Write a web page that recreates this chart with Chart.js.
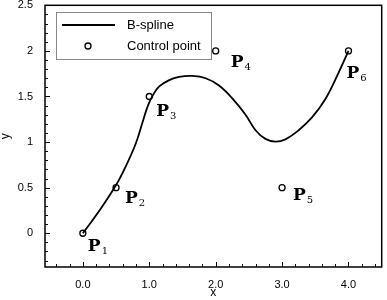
<!DOCTYPE html>
<html>
<head>
<meta charset="utf-8">
<script src="https://cdn.jsdelivr.net/npm/chart.js@4.4.0/dist/chart.umd.min.js"></script>
<style>
	html, body { margin: 0; padding: 0; background: #fff; }
	#wrap { width: 387px; height: 300px; }
</style>
</head>
<body>
<div id="wrap"><canvas id="graph"></canvas></div>
<script>
/* B-spline curve */
var curveX = [0, 0.25, 0.5, 0.65, 0.8, 0.9, 0.98, 1.06, 1.15, 1.3, 1.45, 1.65, 1.85, 2.05, 2.25, 2.45, 2.6, 2.75, 2.9, 3.05, 3.25, 3.45, 3.65, 3.85, 4.0];
var curveY = [0, 0.25, 0.53, 0.74, 0.99, 1.22, 1.40, 1.52, 1.61, 1.68, 1.715, 1.725, 1.70, 1.62, 1.48, 1.30, 1.13, 1.035, 1.005, 1.03, 1.13, 1.27, 1.47, 1.76, 2.0];

/* Control points */
var pointX = [0, 0.5, 1, 2, 3, 4];
var pointY = [0, 0.5, 1.5, 2, 0.5, 2];
var pointNames = ['1', '2', '3', '4', '5', '6'];

/* Axis ticks */
var xTicks = [0, 1, 2, 3, 4];
var xTickLabels = ['0.0', '1.0', '2.0', '3.0', '4.0'];
var yTicks = [0, 0.5, 1, 1.5, 2, 2.5];
var yTickLabels = ['0', '0.5', '1', '1.5', '2', '2.5'];

var seriesNames = ['B-spline', 'Control point'];

function pairs(xs, ys) {
	var out = [];
	xs.forEach(function(x, i) {
		out.push({ x: x, y: ys[i] });
	});
	return out;
}

var tickFont = { family: 'Liberation Sans', size: 11 };

/* label offsets (px) next to each control point */
var labelOffsets = [[5, 18], [9, 15], [7, 20], [15, 16], [11, 12], [-2, 27]];

var framePlugin = {
	id: 'frame',
	afterDatasetsDraw: function(chart) {
		var ctx = chart.ctx;
		var a = chart.chartArea;
		var sx = chart.scales.x, sy = chart.scales.y;
		ctx.save();
		ctx.strokeStyle = '#000';
		ctx.lineWidth = 1;
		ctx.beginPath();
		// inward ticks on bottom and left
		for (var v = -4; v <= 44; v += 2) {
			var px = Math.round(sx.getPixelForValue(v / 10)) + 0.5;
			var len = (v % 10 === 0) ? 5 : 3;
			ctx.moveTo(px, a.bottom);
			ctx.lineTo(px, a.bottom - len);
		}
		for (var w = -3; w <= 25; w++) {
			var py = Math.round(sy.getPixelForValue(w / 10)) + 0.5;
			var l2 = (w % 5 === 0) ? 5 : 3;
			ctx.moveTo(a.left, py);
			ctx.lineTo(a.left + l2, py);
		}
		ctx.stroke();
		ctx.lineWidth = 1.5;
		ctx.strokeRect(a.left, a.top, a.right - a.left, a.bottom - a.top);

		// point labels P_i
		ctx.fillStyle = '#000';
		ctx.textBaseline = 'alphabetic';
		pointX.forEach(function(x, i) {
			var bx = sx.getPixelForValue(x) + labelOffsets[i][0];
			var by = sy.getPixelForValue(pointY[i]) + labelOffsets[i][1];
			ctx.font = 'bold 17px "DejaVu Serif"';
			ctx.fillText('P', bx, by);
			var wP = ctx.measureText('P').width;
			ctx.font = '10px "DejaVu Serif"';
			ctx.fillText(pointNames[i], bx + wP + 1, by + 3);
		});
		ctx.restore();
	},
	afterDraw: function(chart) {
		var ctx = chart.ctx;
		ctx.save();
		ctx.fillStyle = '#fff';
		ctx.fillRect(56, 12, 155, 47);
		ctx.strokeStyle = '#888';
		ctx.lineWidth = 1;
		ctx.strokeRect(56.5, 12.5, 155, 47);
		ctx.strokeStyle = '#000';
		ctx.lineWidth = 1.8;
		ctx.beginPath();
		ctx.moveTo(62, 25);
		ctx.lineTo(115, 25);
		ctx.stroke();
		ctx.lineWidth = 1.3;
		ctx.fillStyle = '#fff';
		ctx.beginPath();
		ctx.arc(88, 46, 3, 0, Math.PI * 2);
		ctx.fill();
		ctx.stroke();
		ctx.fillStyle = '#000';
		ctx.font = '13px "Liberation Sans"';
		ctx.textBaseline = 'middle';
		ctx.fillText(seriesNames[0], 127, 25);
		ctx.fillText(seriesNames[1], 127, 46);
		ctx.restore();
	}
};

var graph = new Chart(document.getElementById('graph').getContext('2d'), {
	type: 'scatter',
	data: {
		datasets: [{
			label: seriesNames[0],
			data: pairs(curveX, curveY),
			showLine: true,
			borderColor: '#000',
			borderWidth: 1.8,
			pointRadius: 0,
			tension: 0.4,
			fill: false
		}, {
			label: seriesNames[1],
			data: pairs(pointX, pointY),
			pointRadius: 3,
			pointBackgroundColor: '#fff',
			pointBorderColor: '#000',
			pointBorderWidth: 1.3
		}]
	},
	options: {
		responsive: true,
		maintainAspectRatio: false,
		animation: false,
		layout: { padding: { top: 4, right: 1, left: 0, bottom: 0 } },
		plugins: {
			legend: { display: false },
			tooltip: { enabled: false }
		},
		scales: {
			x: {
				type: 'linear',
				min: -0.57,
				max: 4.5,
				afterBuildTicks: function(scale) {
					scale.ticks = xTicks.map(function(v) { return { value: v }; });
				},
				afterFit: function(scale) {
					scale.height = 33;
					scale.paddingLeft = 0;
					scale.paddingRight = 0;
				},
				ticks: {
					callback: function(v, i) { return xTickLabels[i]; },
					padding: 11,
					maxRotation: 0,
					autoSkip: false,
					color: '#000',
					font: tickFont
				},
				grid: { display: false, drawTicks: false },
				border: { display: false },
				title: {
					display: true,
					text: 'x',
					color: '#000',
					font: { family: 'Liberation Sans', size: 12 },
					padding: { top: 0, bottom: 0 }
				}
			},
			y: {
				type: 'linear',
				min: -0.37,
				max: 2.5,
				afterBuildTicks: function(scale) {
					scale.ticks = yTicks.map(function(v) { return { value: v }; });
				},
				afterFit: function(scale) {
					scale.width = 45;
					scale.paddingTop = 0;
					scale.paddingBottom = 0;
				},
				ticks: {
					callback: function(v, i) { return yTickLabels[i]; },
					padding: 12,
					autoSkip: false,
					color: '#000',
					font: tickFont
				},
				grid: { display: false, drawTicks: false },
				border: { display: false },
				title: {
					display: true,
					text: 'y',
					color: '#000',
					font: { family: 'Liberation Sans', size: 12, lineHeight: 1 },
					padding: { top: 0, bottom: 0 }
				}
			}
		}
	},
	plugins: [framePlugin]
});
</script>
</body>
</html>
